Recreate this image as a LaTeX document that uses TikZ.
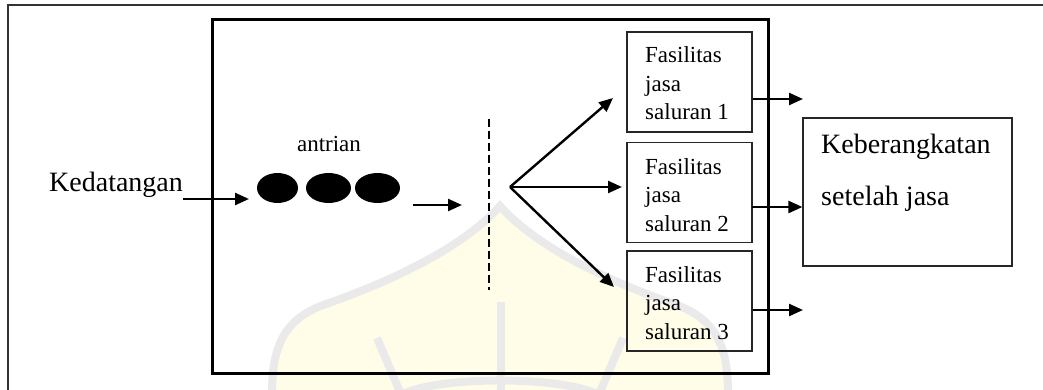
\documentclass[tikz,border=0pt]{standalone}
\usepackage{fontspec}
\setmainfont{Liberation Serif}
\usetikzlibrary{arrows.meta,shapes.geometric}
\definecolor{wmgray}{HTML}{EAEAEA}
\definecolor{wmfill}{HTML}{FFFDE8}
\definecolor{framegray}{HTML}{333333}

\begin{document}
\begin{tikzpicture}[x=1pt,y=-1pt,
  arr/.style={line width=2.4pt,-{Triangle[length=14pt,width=12pt]}},
  svcbox/.style={draw=black!85,line width=1.2pt,minimum width=125pt,minimum height=100pt,inner sep=0pt},
  outbox/.style={draw=black!85,line width=1.2pt,minimum width=209pt,minimum height=148pt,inner sep=0pt},
  sysbox/.style={draw=black,line width=3pt,minimum width=556pt,minimum height=353pt,inner sep=0pt},
  bigtxt/.style={font=\fontsize{28}{52}\selectfont,inner sep=0pt,align=left},
  smalltxt/.style={font=\fontsize{23}{28.5}\selectfont,inner sep=0pt,align=left},
  client/.style={ellipse,fill=black,inner sep=0pt},
  wm/.style={wmgray,line width=8pt}]
\useasboundingbox (0,0) rectangle (1043,390);

% faint dome emblem behind the diagram
\fill[wmfill] (272,390) .. controls (272,340) and (289,317) .. (326,304)
  .. controls (400,278) and (465,245) .. (500,206)
  .. controls (535,245) and (600,278) .. (674,304)
  .. controls (711,317) and (728,340) .. (728,390) -- cycle;
\draw[wm] (272,392) .. controls (272,340) and (289,317) .. (326,304)
  .. controls (400,278) and (465,245) .. (500,206)
  .. controls (535,245) and (600,278) .. (674,304)
  .. controls (711,317) and (728,340) .. (728,392);
\draw[wm] (501,302) -- (501,392);
\draw[wm] (377,338) -- (400,392);
\draw[wm] (623,338) -- (600,392);
\draw[wm] (403,394) .. controls (440,376) and (560,376) .. (597,394);

% page frame
\draw[framegray,line width=1.8pt] (8,391) -- (8,5) -- (1044,5);

% system boundary
\node[sysbox] (sys) at (490,196.5) {};

% arrivals and queue
\node[bigtxt,anchor=base west] (arr) at (49,192) {Kedatangan};
\node[smalltxt,anchor=base] (queue) at (329,152) {antrian};
\node[client,minimum width=41pt,minimum height=30pt] (c1) at (277.5,188) {};
\node[client,minimum width=45pt,minimum height=30pt] (c2) at (328.5,188) {};
\node[client,minimum width=45pt,minimum height=30pt] (c3) at (377.5,188) {};

\coordinate (inEnd) at (249,199);
\draw[arr] (183,199) coordinate (inStart) -- (inEnd);
\coordinate (qA) at (413,205);
\coordinate (qB) at (462,205);
\draw[arr] (qA) -- (qB);

% dashed service line and split
\draw[line width=2.4pt,dash pattern=on 8pt off 4pt] (489,119) coordinate (dTop) -- (489,290) coordinate (dBot);
\coordinate (fan) at (510,187);
\coordinate (t1) at (613,98);
\coordinate (t2) at (622,187);
\coordinate (t3) at (614,287);
\draw[arr] (fan) -- (t1);
\draw[arr] (fan) -- (t2);
\draw[arr] (fan) -- (t3);

% service channels (node base = baseline of the last line)
\node[svcbox] (s1) at (689.5,82) {};
\node[svcbox] (s2) at (689.5,192.5) {};
\node[svcbox] (s3) at (689.5,301) {};
\node[smalltxt,anchor=base west] (s1t) at (645,120) {Fasilitas\\jasa\\saluran 1};
\node[smalltxt,anchor=base west] (s2t) at (645,231) {Fasilitas\\jasa\\saluran 2};
\node[smalltxt,anchor=base west] (s3t) at (645,339) {Fasilitas\\jasa\\saluran 3};

% departures
\node[outbox] (dep) at (907.5,192) {};
\node[bigtxt,anchor=base west] (dept) at (821,205) {Keberangkatan\\setelah jasa};

\coordinate (o1) at (803,99);
\coordinate (o3) at (803,310);
\draw[arr] (s1.east |- o1) -- (o1);
\draw[arr] (752,207) coordinate (o2) -- (dep.west |- o2);
\draw[arr] (s3.east |- o3) -- (o3);
\end{tikzpicture}
\end{document}
